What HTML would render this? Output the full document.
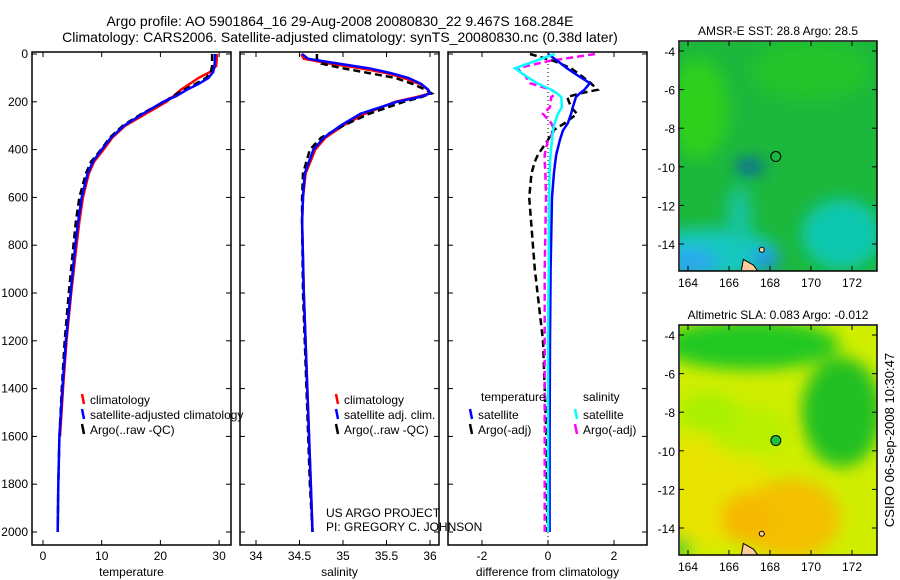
<!DOCTYPE html>
<html><head><meta charset="utf-8"><style>
body{margin:0;background:#fff}
svg{display:block;font-family:"Liberation Sans",sans-serif}
</style></head><body>
<svg id="c" width="900" height="580" viewBox="0 0 900 580">
<defs>
<filter id="bl" x="-20%" y="-20%" width="140%" height="140%"><feGaussianBlur stdDeviation="8"/></filter>
<clipPath id="m1"><rect x="680" y="42" width="197" height="229"/></clipPath>
<clipPath id="m2"><rect x="680" y="326" width="197" height="230"/></clipPath>
</defs>
<text x="340" y="26" font-size="14" text-anchor="middle">Argo profile: AO 5901864_16 29-Aug-2008 20080830_22 9.467S 168.284E</text>
<text x="340" y="42" font-size="14" text-anchor="middle">Climatology: CARS2006. Satellite-adjusted climatology: synTS_20080830.nc (0.38d later)</text>
<g id="maps"></g>
<g id="plots"></g>
<text transform="translate(894,440) rotate(-90)" font-size="13" text-anchor="middle">CSIRO 06-Sep-2008 10:30:47</text>
</svg>
<script>
const depths=[0,20,50,75,100,125,150,175,200,250,300,350,400,450,500,600,700,800,1000,1200,1400,1600,1800,2000];
const tempClim=[29.6,29.6,29.5,28.5,26.5,25,23.5,22.3,21,17.5,14,11.8,10.3,8.7,7.8,6.8,6.2,5.7,4.8,4.0,3.4,2.9,2.7,2.6];
const tempSat=[29.3,29.3,29.2,29,28.2,26.5,24.5,22.8,20.5,17,13.8,11.6,10.0,8.5,7.6,6.6,6.0,5.5,4.7,3.9,3.3,2.8,2.6,2.5];
const tempArgo=[28.8,28.8,28.8,28.6,27.8,26,24,22.2,20.7,16.8,13.6,11.4,9.9,8.2,7.3,6.2,5.6,5.2,4.4,3.7,3.2,2.8,2.6,2.5];
const salDepths=[0,20,40,60,80,100,125,150,165,180,200,250,300,350,400,500,600,700,1000,1400,1800,2000];
const salClim=[34.52,34.55,34.85,35.2,35.5,35.7,35.88,35.98,36.0,35.85,35.6,35.25,35.0,34.8,34.68,34.57,34.54,34.53,34.55,34.59,34.63,34.65];
const salSat=[34.53,34.6,34.95,35.3,35.55,35.75,35.9,35.98,36.0,35.88,35.62,35.2,34.97,34.78,34.66,34.56,34.54,34.53,34.55,34.59,34.63,34.65];
const salArgo=[34.7,34.7,34.75,35.0,35.3,35.6,35.8,35.95,36.02,35.9,35.7,35.3,35.0,34.75,34.62,34.54,34.53,34.53,34.54,34.58,34.62,34.65];
const diffDepths=[0,30,60,90,122,150,164,180,222,250,290,320,360,420,450,500,600,900,1200,1600,2000];
const dTempSat=[0.0,0.3,0.58,0.9,1.27,1.1,0.97,0.85,0.75,0.7,0.6,0.45,0.36,0.25,0.22,0.18,0.12,0.08,0.06,0.05,0.05];
const dSalSat=[0.2,-0.4,-1.0,-0.7,-0.33,0.1,0.27,0.4,0.42,0.3,0.2,0.15,0.12,0.08,0.06,0.05,0.03,0.02,0.0,0.0,0.0];
const dTempArgo=[-0.55,0.2,0.7,1.0,1.3,1.5,1.0,0.58,0.7,0.88,0.5,0.15,0.0,-0.3,-0.4,-0.5,-0.57,-0.4,-0.15,-0.05,-0.02];
const dSalArgo=[1.42,0.0,-0.94,-0.7,-0.55,0.1,0.27,0.1,0.06,-0.15,0.1,0.2,0.0,-0.1,-0.1,-0.08,-0.06,-0.1,-0.1,-0.1,-0.1];
const tempTicks=[0,10,20,30], salTicks=[34,34.5,35,35.5,36], diffTicks=[-2,0,2];
const depthTicks=[0,200,400,600,800,1000,1200,1400,1600,1800,2000];
const latTicks=[-4,-6,-8,-10,-12,-14], lonTicks=[164,166,168,170,172];
const floatPos=[168.284,-9.467];

const NS='http://www.w3.org/2000/svg';
const svg=document.getElementById('c');
function el(tag,attrs,parent,txt){const e=document.createElementNS(NS,tag);for(const k in attrs)e.setAttribute(k,attrs[k]);if(txt!==undefined)e.textContent=txt;(parent||svg).appendChild(e);return e;}
const yD=d=>54+d*0.239;
const plots=document.getElementById('plots');
const PT=52,PB=545;
function panel(name,x0,x1,xs,ticks,label,showY){
  const g=el('g',{},plots);
  
  
  const r=el('rect',{x:x0,y:PT,width:x1-x0,height:PB-PT,fill:'none',stroke:'#000','stroke-width':1.5},g);
  
  
  ticks.forEach(t=>{const x=xs(t);
    el('line',{x1:x,x2:x,y1:PT,y2:PT+5,stroke:'#000'},g);
    el('line',{x1:x,x2:x,y1:PB,y2:PB-5,stroke:'#000'},g);
    const tx=el('text',{x:x,y:PB+15,'font-size':12,'text-anchor':'middle'},g,String(t));
    
    
  });
  depthTicks.forEach(d=>{const y=yD(d);
    el('line',{x1:x0,x2:x0+5,y1:y,y2:y,stroke:'#000'},g);
    el('line',{x1:x1,x2:x1-5,y1:y,y2:y,stroke:'#000'},g);
    if(showY){const t=el('text',{x:x0-4,y:y+4,'font-size':12,'text-anchor':'end'},g,String(d));
      
      }
  });
  const lb=el('text',{x:(x0+x1)/2,y:576,'font-size':12,'text-anchor':'middle'},g,label);
  
  
  return g;
}
function line(g,xs,ds,vals,color,dash,name,maxD){
  const pts=[];ds.forEach((d,i)=>{if(maxD===undefined||d<=maxD)pts.push(xs(vals[i]).toFixed(1)+','+yD(d).toFixed(1));});
  const p=el('polyline',{points:pts.join(' '),fill:'none',stroke:color,'stroke-width':2.5,'stroke-dasharray':dash||'none'},g);
  
  
}
function legend(g,x,y,items){
  items.forEach((it,i)=>{const yy=y+i*15;
    el('line',{x1:x,x2:x+2,y1:yy-8,y2:yy+2,stroke:it[1],'stroke-width':2.5},g);
    const t=el('text',{x:x+8,y:yy+2,'font-size':12},g,it[0]);
    
    });
}
const xT=v=>43+v*5.87;
const g1=panel('temperature-panel',32,231,xT,tempTicks,'temperature',true);
line(g1,xT,depths,tempClim,'#f00',null,'temp-climatology-line',1680);
line(g1,xT,depths,tempArgo,'#000','7,4','temp-argo-line');
line(g1,xT,depths,tempSat,'#00f',null,'temp-satellite-line');
legend(g1,82,402,[['climatology','#f00'],['satellite-adjusted climatology','#00f'],['Argo(..raw -QC)','#000']]);
const xS=v=>256+(v-34)*87;
const g2=panel('salinity-panel',240,439,xS,salTicks,'salinity',false);
line(g2,xS,salDepths,salClim,'#f00',null,'sal-climatology-line');
line(g2,xS,salDepths,salArgo,'#000','7,4','sal-argo-line');
line(g2,xS,salDepths,salSat,'#00f',null,'sal-satellite-line');
legend(g2,336,402,[['climatology','#f00'],['satellite adj. clim.','#00f'],['Argo(..raw -QC)','#000']]);
const n1=el('text',{x:326,y:517,'font-size':12},g2,'US ARGO PROJECT');
const n2=el('text',{x:326,y:531,'font-size':12},g2,'PI: GREGORY C. JOHNSON');
const xF=v=>548+v*33;
const g3=panel('difference-panel',448,647,xF,diffTicks,'difference from climatology',false);
el('line',{x1:xF(0),x2:xF(0),y1:PT,y2:PB,stroke:'#000','stroke-dasharray':'1,3'},g3);
line(g3,xF,diffDepths,dTempArgo,'#000','7,4','diff-temp-argo-line');
line(g3,xF,diffDepths,dSalArgo,'#f0f','7,4','diff-sal-argo-line');
line(g3,xF,diffDepths,dTempSat,'#00f',null,'diff-temp-satellite-line');
line(g3,xF,diffDepths,dSalSat,'#0ff',null,'diff-sal-satellite-line');
const h1=el('text',{x:481,y:401,'font-size':12},g3,'temperature');
const h2=el('text',{x:583,y:401,'font-size':12},g3,'salinity');
legend(g3,470,417,[['satellite','#00f'],['Argo(-adj)','#000']]);
legend(g3,575,417,[['satellite','#0ff'],['Argo(-adj)','#f0f']]);

const maps=document.getElementById('maps');
const lx=v=>688+(v-164)*20.5;
function mapPanel(name,top,title,clip,blobs,base,dot){
  const g=el('g',{},maps);
  
  
  const ly=v=>top+10+(-4-v)*19.3;
  const cg=el('g',{'clip-path':'url(#'+clip+')'},g);
  el('rect',{x:680,y:top,width:197,height:230,fill:base},cg);
  const bg=el('g',{filter:'url(#bl)'},cg);
  blobs.forEach(b=>el('ellipse',{cx:lx(b[0]),cy:ly(b[1]),rx:b[2],ry:b[3],fill:b[4]},bg));
  el('path',{d:`M${lx(166.6)} ${top+230} L${lx(166.7)} ${ly(-14.8)} L${lx(167.2)} ${ly(-15.1)} L${lx(167.4)} ${top+230}Z`,fill:'#fc9',stroke:'#000'},cg);
  el('circle',{cx:lx(167.6),cy:ly(-14.3),r:2.5,fill:'#fc9',stroke:'#000'},cg);
  const fr=el('rect',{x:679,y:top,width:198,height:230,fill:'none',stroke:'#000','stroke-width':1.5},g);
  
  latTicks.forEach(v=>{const y=ly(v);el('line',{x1:679,x2:684,y1:y,y2:y,stroke:'#000'},g);el('line',{x1:877,x2:872,y1:y,y2:y,stroke:'#000'},g);
    const t=el('text',{x:675,y:y+5,'font-size':12,'text-anchor':'end'},g,String(v));});
  lonTicks.forEach(v=>{const x=lx(v);el('line',{x1:x,x2:x,y1:top,y2:top+5,stroke:'#000'},g);el('line',{x1:x,x2:x,y1:top+230,y2:top+225,stroke:'#000'},g);
    const t=el('text',{x:x,y:top+246,'font-size':12,'text-anchor':'middle'},g,String(v));});
  const tt=el('text',{x:778,y:top-6,'font-size':12,'text-anchor':'middle'},g,title);
  
  const c=el('circle',{cx:lx(floatPos[0]),cy:ly(floatPos[1]),r:5,fill:dot,stroke:'#000'},g);
  
}
mapPanel('sst-map',41,'AMSR-E SST: 28.8  Argo: 28.5','m1',[
  [164.5,-7,30,50,'#2ed01e'],[170,-5,60,30,'#20c42a'],[165,-14.5,70,25,'#12c8c0'],[164,-15,30,15,'#2aa8f0'],
  [171.5,-13.5,40,35,'#10c8b0'],[167,-10,14,6,'#1040d0'],[167.8,-14.8,14,10,'#2090f0'],[166.5,-12.5,12,30,'#18c4a0']],'#1cb83c','none');
mapPanel('sla-map',325,'Altimetric SLA: 0.083  Argo: -0.012','m2',[
  [165,-12,60,55,'#e8e400'],[169,-13.5,50,40,'#f4c000'],[166.8,-13.5,25,25,'#f6b800'],[167,-9,40,25,'#b8f000'],
  [165,-8,30,20,'#a8f000'],[171.5,-8,40,55,'#20c020'],[167,-4.5,90,25,'#24c820'],[163.5,-15,15,10,'#40d020']],'#d0ee00','#1cc040');
</script>
</body></html>
